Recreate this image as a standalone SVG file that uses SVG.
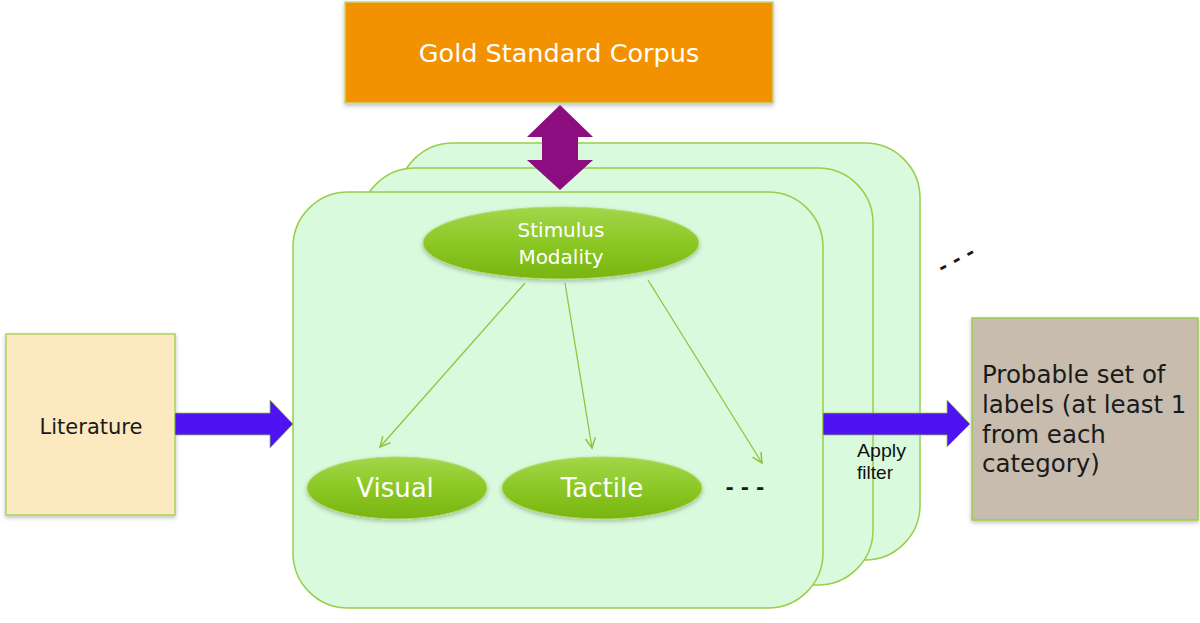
<svg xmlns="http://www.w3.org/2000/svg" width="1200" height="623" viewBox="0 0 1200 623">
<defs>
<linearGradient id="ell" x1="0" y1="0" x2="0" y2="1">
<stop offset="0" stop-color="#A2D64A"/>
<stop offset="0.5" stop-color="#8CC825"/>
<stop offset="1" stop-color="#78B410"/>
</linearGradient>
<marker id="vh" markerWidth="14" markerHeight="14" refX="11" refY="6" orient="auto" markerUnits="userSpaceOnUse">
<path d="M1,1 L11,6 L1,11" fill="none" stroke="#8DC63F" stroke-width="1.5"/>
</marker>
<filter id="sh" x="-5%" y="-5%" width="110%" height="115%">
<feDropShadow dx="0" dy="2" stdDeviation="2" flood-color="#000" flood-opacity="0.25"/>
</filter>
</defs>
<style>
.layer{fill:#D9FADC;stroke:#9ACD4A;stroke-width:1.5}
.ell{fill:url(#ell);stroke:#B3DC6A;stroke-width:1}
.wt{fill:#fff;font-family:"DejaVu Sans","Liberation Sans",sans-serif;text-anchor:middle}
.bt{fill:#1a1a1a;font-family:"DejaVu Sans","Liberation Sans",sans-serif}
.conn{stroke:#8DC63F;stroke-width:1.3;fill:none;marker-end:url(#vh)}
.blue{fill:#4F12F2;stroke:#8DC63F;stroke-width:0.8}
.af{fill:#111;font-family:"Liberation Sans",Arial,sans-serif;font-size:19px}
</style>
<rect width="1200" height="623" fill="#fff"/>

<g id="layer-back"><rect class="layer" x="398" y="143" width="522" height="417" rx="55" ry="55"/></g>
<g id="layer-middle"><rect class="layer" x="360" y="168" width="513" height="417" rx="55" ry="55"/></g>
<g id="layer-front"><rect class="layer" x="293" y="192" width="530" height="416" rx="55" ry="55"/></g>

<g id="gold">
<rect x="345" y="2" width="428" height="101" fill="#F39200" stroke="#C8D870" stroke-width="1.5" filter="url(#sh)"/>
<text class="wt" x="559" y="62" font-size="25.5">Gold Standard Corpus</text>
</g>

<g id="literature">
<rect x="6" y="334" width="169" height="181" fill="#FDE9BF" stroke="#A8D25A" stroke-width="1.5" filter="url(#sh)"/>
<text class="bt" x="91" y="434" font-size="21" text-anchor="middle">Literature</text>
</g>

<g id="probable">
<rect x="972" y="318" width="226" height="202" fill="#C8BCAF" stroke="#9ACD4A" stroke-width="1.5" filter="url(#sh)"/>
<text class="bt" x="982" y="383" font-size="24.5">Probable set of</text>
<text class="bt" x="982" y="413" font-size="24.5">labels (at least 1</text>
<text class="bt" x="982" y="443" font-size="24.5">from each</text>
<text class="bt" x="982" y="472" font-size="24.5">category)</text>
</g>

<g id="stimulus">
<ellipse class="ell" cx="561" cy="243" rx="138" ry="36" filter="url(#sh)"/>
<text class="wt" x="561" y="237" font-size="20">Stimulus</text>
<text class="wt" x="561" y="264" font-size="20">Modality</text>
</g>
<g id="visual">
<ellipse class="ell" cx="397" cy="488" rx="90" ry="31" filter="url(#sh)"/>
<text class="wt" x="395" y="497" font-size="26">Visual</text>
</g>
<g id="tactile">
<ellipse class="ell" cx="602" cy="488" rx="100" ry="31" filter="url(#sh)"/>
<text class="wt" x="602" y="497" font-size="26">Tactile</text>
</g>
<g id="more-children"><text class="bt" x="745" y="494" font-size="20" font-weight="bold" text-anchor="middle">- - -</text></g>
<g id="more-layers"><text class="bt" x="957" y="266" font-size="20" font-weight="bold" text-anchor="middle" transform="rotate(-28 957 261)">- - -</text></g>

<g id="connectors">
<path class="conn" d="M525,283 L380,447"/>
<path class="conn" d="M565,283 L592,448"/>
<path class="conn" d="M648,280 L762,463"/>
<polygon class="blue" points="175,413 270,413 270,400 293,424 270,448 270,435 175,435"/>
<polygon class="blue" points="823,413 947,413 947,400 970,424 947,447 947,435 823,435"/>
<polygon fill="#8B0D80" points="560,105 593,137 578,137 578,160 593,160 560,190 527,160 542,160 542,137 527,137"/>
<text class="af" x="857" y="457" textLength="49" lengthAdjust="spacingAndGlyphs">Apply</text>
<text class="af" x="857" y="479" textLength="36" lengthAdjust="spacingAndGlyphs">filter</text>
</g>
</svg>
